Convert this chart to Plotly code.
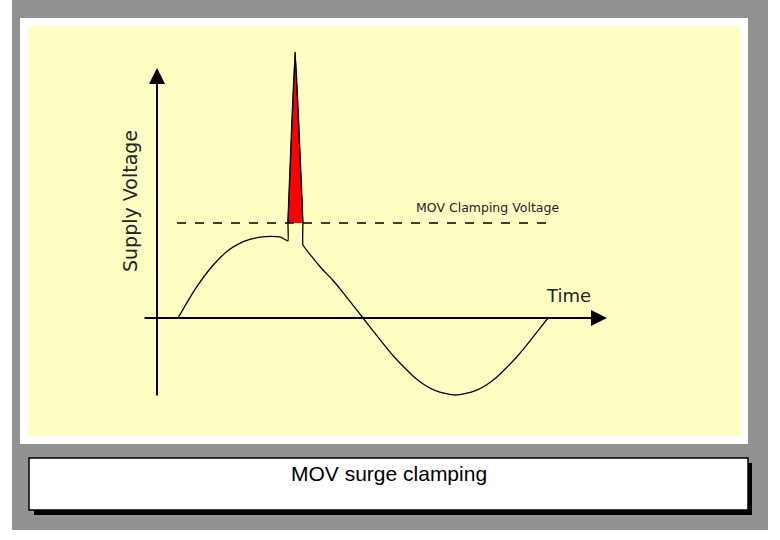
import plotly.graph_objects as go

W, H = 780, 540

# waveform: phase in degrees, voltage in units of the sine peak
phase = [0, 10, 20, 30, 40, 50, 60, 70, 80, 90, 100, 107, 107, 114, 121.5, 121.5,
         130, 140, 150, 160, 170, 180, 190, 200, 210, 220, 230, 240, 250, 260, 270,
         280, 290, 300, 310, 320, 330, 340, 350, 360]
volts = [0, 0.23, 0.44, 0.62, 0.77, 0.89, 0.97, 1.02, 1.05, 1.06, 1.05, 1.0, 1.234, 3.45, 1.234, 0.95,
         0.8, 0.64, 0.5, 0.34, 0.17, 0, -0.17, -0.34, -0.5, -0.64, -0.77, -0.87, -0.94, -0.98, -1.0,
         -0.98, -0.94, -0.87, -0.77, -0.64, -0.5, -0.34, -0.17, 0]

clamp_level = 1.234
spike_phase = [107, 114, 121.5]
spike_volts = [clamp_level, 3.45, clamp_level]

# pixel <-> data scale of the drawing
X0, XS = 178, 185 / 180   # px of phase 0, px per degree
Y0, YS = 318, 77          # px of 0 V, px per unit


def dx(px):
    return (px - X0) / XS


def dy(py):
    return (Y0 - py) / YS


def rect(x0, y0, x1, y1, **kw):
    return dict(type="rect", xref="paper", yref="paper", layer="below",
                x0=x0 / W, x1=x1 / W, y0=1 - y1 / H, y1=1 - y0 / H, **kw)


fig = go.Figure()
fig.add_trace(go.Scatter(x=spike_phase, y=spike_volts, fill="toself", fillcolor="#ff0000",
                         mode="lines", line=dict(color="black", width=1), hoverinfo="skip"))
fig.add_trace(go.Scatter(x=phase, y=volts, mode="lines", line=dict(color="black", width=1.3, shape="spline", smoothing=0.3),
                         hoverinfo="skip"))
fig.add_trace(go.Scatter(x=[dx(177), dx(550)], y=[clamp_level, clamp_level], mode="lines",
                         line=dict(color="black", width=1.4, dash="dash"), hoverinfo="skip"))

shapes = [
    rect(12, 0, 768, 530, fillcolor="#929292", line_width=0),
    rect(20, 18, 748, 444, fillcolor="white", line_width=0),
    rect(28, 26, 740, 436, fillcolor="#ffffc4", line_width=0),
    rect(34, 463, 752, 515, fillcolor="black", line_width=0),
    rect(29, 458, 748, 510, fillcolor="white", line=dict(color="black", width=1.5)),
]

annotations = [
    # axes with arrowheads
    dict(x=dx(157), y=dy(68), ax=dx(157), ay=dy(397), xref="x", yref="y", axref="x", ayref="y",
         text="", showarrow=True, arrowhead=2, arrowsize=1.6, arrowwidth=2, arrowcolor="black"),
    dict(x=dx(607), y=0, ax=dx(143), ay=0, xref="x", yref="y", axref="x", ayref="y",
         text="", showarrow=True, arrowhead=2, arrowsize=1.6, arrowwidth=2, arrowcolor="black"),
    dict(x=dx(130), y=dy(201), xref="x", yref="y", text="Supply Voltage", textangle=-90,
         showarrow=False, font=dict(family="DejaVu Sans", size=19, color="#222")),
    dict(x=dx(568), y=dy(295), xref="x", yref="y", text="Time", showarrow=False,
         font=dict(family="DejaVu Sans", size=18, color="#222")),
    dict(x=dx(487), y=dy(207), xref="x", yref="y", text="MOV Clamping Voltage", showarrow=False,
         font=dict(family="DejaVu Sans", size=12.5, color="#222")),
    dict(x=389 / W, y=1 - 487 / H, xref="paper", yref="paper", text="MOV surge clamping",
         showarrow=False, font=dict(family="Liberation Sans", size=21, color="black")),
]

fig.update_layout(
    width=W, height=H, margin=dict(l=0, r=0, t=0, b=0),
    paper_bgcolor="white", plot_bgcolor="rgba(0,0,0,0)", showlegend=False,
    xaxis=dict(range=[dx(0), dx(W)], visible=False, fixedrange=True),
    yaxis=dict(range=[dy(H), dy(0)], visible=False, fixedrange=True),
    shapes=shapes, annotations=annotations,
)
fig.write_html("out.html", config={"displayModeBar": False},
               post_script="document.body.style.margin='0';")
